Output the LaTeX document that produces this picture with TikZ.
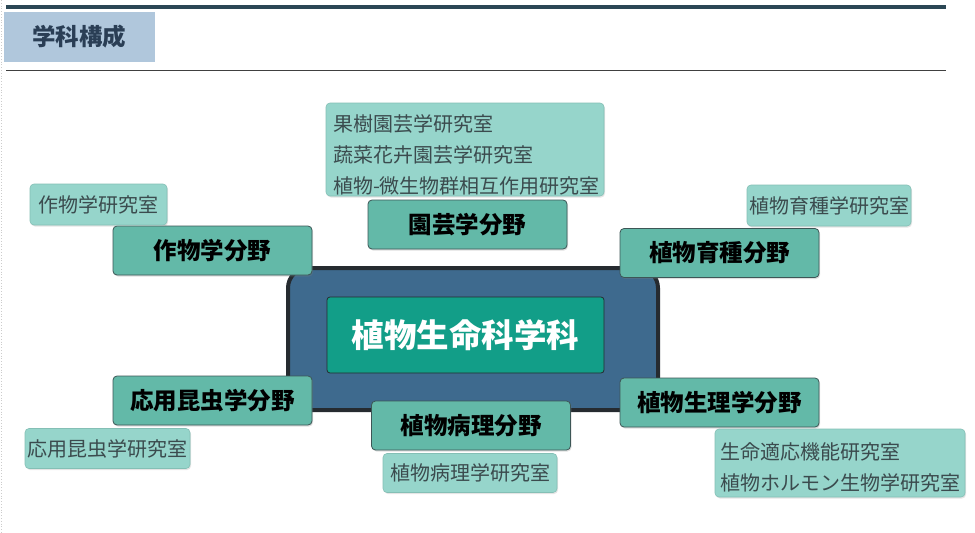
\documentclass[tikz,border=0pt]{standalone}
\usepackage{fontspec}
\setmainfont{Noto Sans CJK JP}
\usetikzlibrary{calc}
\usetikzlibrary{shadows}
\definecolor{fieldfill}{HTML}{63B9A8}
\definecolor{fielddraw}{HTML}{3D5656}
\definecolor{labfill}{HTML}{96D5CB}
\definecolor{labdraw}{HTML}{84BFB5}
\definecolor{labtext}{HTML}{3B4B4E}
\definecolor{corefill}{HTML}{3E6A8E}
\definecolor{coredraw}{HTML}{262B30}
\definecolor{namefill}{HTML}{129E88}
\definecolor{titlefill}{HTML}{B0C7DC}
\definecolor{titletext}{HTML}{2A3E55}
\definecolor{rulecol}{HTML}{2B4755}

\begin{document}
\begin{tikzpicture}[
		x=1pt, y=-1pt,
		field/.style={fill=fieldfill, draw=fielddraw, line width=0.8pt, rounded corners=4pt,
			minimum width=199pt, minimum height=49pt, inner sep=0pt,
			font=\fontsize{23.5}{28}\selectfont\bfseries,
			drop shadow={opacity=0.25, shadow xshift=1pt, shadow yshift=-1.5pt}},
		lab/.style={fill=labfill, draw=labdraw, line width=0.6pt, rounded corners=4pt,
			inner sep=0pt, text=labtext, font=\fontsize{20}{31}\selectfont,
			drop shadow={opacity=0.2, shadow xshift=1pt, shadow yshift=-1.5pt}},
		labnames/.style={inner sep=0pt, text=labtext, font=\fontsize{20}{31}\selectfont, align=left},
	]
	\useasboundingbox [fill=white] (0,0) rectangle (975,533);
	\draw [gray!40, dotted, line width=0.8pt] (1,0) -- (1,533);
	\draw [rulecol, line width=3.5pt] (6,7) -- (946,7);
	\draw [black!75, line width=1pt] (6,70) -- (946,70);
	\node [fill=titlefill, minimum width=151pt, minimum height=50pt, inner sep=0pt,
		text=titletext, font=\fontsize{23.5}{28}\selectfont\bfseries] (title) at (79,37) {学科構成};

	\node [fill=corefill, draw=coredraw, line width=4pt, rounded corners=20pt,
		minimum width=370pt, minimum height=142pt] (core) at (473,339) {};
	\node [fill=namefill, draw=coredraw, line width=0.8pt, rounded corners=3pt,
		minimum width=277pt, minimum height=76pt, inner sep=0pt, text=white,
		font=\fontsize{32.5}{38}\selectfont\bfseries] (dept) at (465.5,335) {植物生命科学科};

	\node [field] (hort) at (467.5,224.5) {園芸学分野};
	\node [field] (crop) at (212.5,250.5) {作物学分野};
	\node [field] (breed) at (719.5,253) {植物育種分野};
	\node [field] (insect) at (212.5,400.5) {応用昆虫学分野};
	\node [field] (patho) at (471,425.5) {植物病理分野};
	\node [field] (physio) at (719.5,402.5) {植物生理学分野};

	\node [lab, minimum width=278pt, minimum height=93pt] (hortlab) at (465,149.5) {};
	\node [labnames, text width=268pt] (hortnames) at (467,155)
		{果樹園芸学研究室\\蔬菜花卉園芸学研究室\\植物-微生物群相互作用研究室};
	\node [lab, minimum width=137pt, minimum height=41pt] (croplab) at (98.5,204.5) {作物学研究室};
	\node [lab, minimum width=164pt, minimum height=41pt] (breedlab) at (829,205.5) {植物育種学研究室};
	\node [lab, minimum width=165pt, minimum height=40pt] (insectlab) at (107.5,448.5) {応用昆虫学研究室};
	\node [lab, minimum width=174pt, minimum height=39pt] (patholab) at (470,473) {植物病理学研究室};
	\node [lab, minimum width=250pt, minimum height=68pt] (physiolab) at (840,463) {};
	\node [labnames, text width=240pt] (physionames) at (840,467)
		{生命適応機能研究室\\植物ホルモン生物学研究室};
\end{tikzpicture}
\end{document}
